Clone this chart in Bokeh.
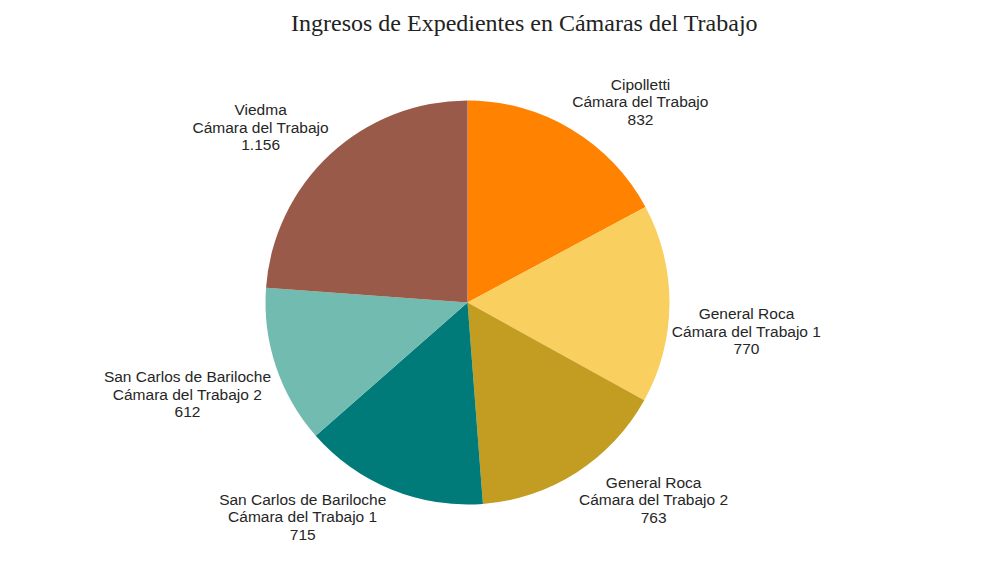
import math
from bokeh.plotting import figure
from bokeh.models import Range1d, ColumnDataSource, Label
from bokeh.core.properties import value
from bokeh.embed import file_html
from bokeh.resources import INLINE

# ---- data ----
places = ["Cipolletti", "General Roca", "General Roca",
          "San Carlos de Bariloche", "San Carlos de Bariloche", "Viedma"]
chambers = ["Cámara del Trabajo", "Cámara del Trabajo 1", "Cámara del Trabajo 2",
            "Cámara del Trabajo 1", "Cámara del Trabajo 2", "Cámara del Trabajo"]
counts = [832, 770, 763, 715, 612, 1156]
count_labels = ["832", "770", "763", "715", "612", "1.156"]
colors = ["#FF8200", "#F9CF5F", "#C29D22", "#007B7A", "#72BBB0", "#9A5A4A"]
title_text = "Ingresos de Expedientes en Cámaras del Trabajo"

W, H = 976, 556
cx, cy = 467, H - 302
R = 202
FS = 15.5
CHAR_W = 7.7   # approx label char width used for placement
LINE_H = 18.2

total = sum(counts)
starts, ends, lx, ly, texts = [], [], [], [], []
acc = 0
for i, c in enumerate(counts):
    a0 = math.pi / 2 - 2 * math.pi * acc / total
    acc += c
    a1 = math.pi / 2 - 2 * math.pi * acc / total
    starts.append(a1)
    ends.append(a0)
    mid = (a0 + a1) / 2
    ux, uy = math.cos(mid), math.sin(mid)
    lines = [places[i], chambers[i], count_labels[i]]
    w = max(len(s) for s in lines) * CHAR_W
    h = len(lines) * LINE_H
    sx = 1 if ux > 0.05 else (-1 if ux < -0.05 else 0)
    sy = 1 if uy > 0 else -1
    lx.append(cx + R * ux + sx * w / 2)
    ly.append(cy + R * uy + sy * h / 2)
    texts.append("\n".join(lines))

src = ColumnDataSource(dict(start=starts, end=ends, color=colors,
                            lx=lx, ly=ly, text=texts))

p = figure(width=W, height=H, output_backend="svg", toolbar_location=None,
           x_range=Range1d(0, W), y_range=Range1d(0, H),
           min_border=0, outline_line_color=None, background_fill_color="white")
p.axis.visible = False
p.grid.visible = False

p.wedge(x=cx, y=cy, radius=R, start_angle="start", end_angle="end",
        fill_color="color", line_color=None, source=src)

p.text(x="lx", y="ly", text="text", source=src, text_align="center",
       text_baseline="middle", text_font=value("Liberation Sans"),
       text_font_size=f"{FS}px", text_color="#262626", text_line_height=1.04)

p.add_layout(Label(x=524, y=H - 22, x_units="screen", y_units="screen",
                   text=title_text, text_align="center", text_baseline="middle",
                   text_font="Liberation Serif", text_font_size="24px",
                   text_color="#222222"))

open("out.html", "w").write(file_html(p, INLINE))
